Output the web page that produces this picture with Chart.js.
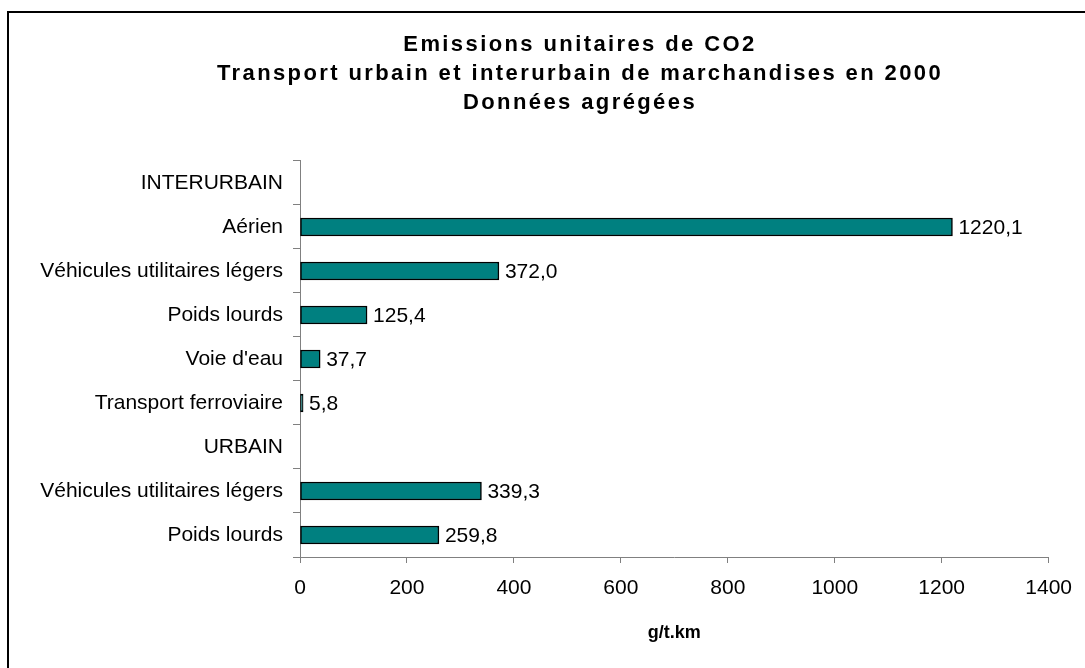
<!DOCTYPE html>
<html lang="fr">
<head>
    <meta charset="UTF-8">
    <title>Emissions unitaires de CO2</title>
    <script src="https://cdn.jsdelivr.net/npm/chart.js"></script>
    <style>
        body { margin: 0; background: #fff; }
    </style>
</head>
<body>
    <canvas id="co2Chart" width="1085" height="668"></canvas>

    <script>
        // categories and values
        const categories = ['INTERURBAIN', 'Aérien', 'Véhicules utilitaires légers', 'Poids lourds', "Voie d'eau",
                            'Transport ferroviaire', 'URBAIN', 'Véhicules utilitaires légers', 'Poids lourds'];
        const emissions = [null, 1220.1, 372.0, 125.4, 37.7, 5.8, null, 339.3, 259.8];
        const xTicks = [0, 200, 400, 600, 800, 1000, 1200, 1400];

        const titleLines = ['Emissions unitaires de CO2',
                            'Transport urbain et interurbain de marchandises en 2000',
                            'Données agrégées'];

        const fontFamily = "'Liberation Sans', Arial, sans-serif";
        const titleCenterX = 580;

        // frame lines (top and left) like the original sheet
        const framePlugin = {
            id: 'frame',
            beforeDraw(chart) {
                const c = chart.ctx;
                c.save();
                c.fillStyle = '#fff';
                c.fillRect(0, 0, chart.width, chart.height);
                c.strokeStyle = '#000';
                c.lineWidth = 2;
                c.beginPath();
                c.moveTo(8, chart.height);
                c.lineTo(8, 12);
                c.lineTo(chart.width, 12);
                c.stroke();
                c.restore();
            }
        };

        // slightly wider letter spacing on the title, centred where the original was
        const titleStyle = {
            id: 'titleStyle',
            beforeDraw(chart) {
                const tb = chart.titleBlock;
                if (!tb || tb._styled) return;
                const draw = tb.draw;
                tb.draw = function() {
                    const c = chart.ctx;
                    c.save();
                    c.letterSpacing = '2.4px';
                    c.translate(titleCenterX - (tb.left + tb.right) / 2, 0);
                    draw.apply(tb, arguments);
                    c.restore();
                };
                tb._styled = true;
            }
        };

        // value labels at the end of each bar
        const valueLabels = {
            id: 'valueLabels',
            afterDatasetsDraw(chart) {
                const c = chart.ctx;
                const meta = chart.getDatasetMeta(0);
                c.save();
                c.font = '21px ' + fontFamily;
                c.fillStyle = '#000';
                c.textBaseline = 'middle';
                c.textAlign = 'left';
                meta.data.forEach(function(bar, i) {
                    const v = chart.data.datasets[0].data[i];
                    if (v === null) return;
                    c.fillText(v.toFixed(1).replace('.', ','), bar.x + 6, bar.y + 1);
                });
                c.restore();
            }
        };

        const ctx = document.getElementById('co2Chart').getContext('2d');
        const co2Chart = new Chart(ctx, {
            type: 'bar',
            data: {
                labels: categories,
                datasets: [{
                    data: emissions,
                    backgroundColor: '#008080',
                    borderColor: '#000',
                    borderWidth: 1.5,
                    borderSkipped: false,
                    barThickness: 18
                }]
            },
            options: {
                indexAxis: 'y',
                responsive: false,
                animation: false,
                events: [],
                layout: {
                    padding: { top: 0, left: 8, right: 31, bottom: 18 }
                },
                plugins: {
                    legend: { display: false },
                    tooltip: { enabled: false },
                    title: {
                        display: true,
                        text: titleLines,
                        color: '#000',
                        font: { family: fontFamily, size: 22, weight: 'bold', lineHeight: 1.318 },
                        padding: { top: 30.5, bottom: 43.5 }
                    }
                },
                scales: {
                    x: {
                        min: 0,
                        max: 1400,
                        afterBuildTicks: function(scale) {
                            scale.ticks = xTicks.map(function(v) { return { value: v }; });
                        },
                        afterFit: function(scale) { scale.height = 93; },
                        grid: { drawOnChartArea: false, tickLength: 6, color: '#808080' },
                        border: { color: '#808080', width: 1 },
                        ticks: {
                            color: '#000',
                            padding: 13,
                            maxRotation: 0,
                            font: { family: fontFamily, size: 21 },
                            callback: function(value) { return String(value); }
                        },
                        title: {
                            display: true,
                            text: 'g/t.km',
                            color: '#000',
                            font: { family: fontFamily, size: 18, weight: 'bold' },
                            padding: { top: 0, bottom: 6 }
                        }
                    },
                    y: {
                        afterFit: function(scale) { scale.width = 292; },
                        grid: { drawOnChartArea: false, tickLength: 7, color: '#808080', offset: true },
                        border: { color: '#808080', width: 1 },
                        ticks: {
                            color: '#000',
                            padding: 10,
                            autoSkip: false,
                            font: { family: fontFamily, size: 21 }
                        }
                    }
                }
            },
            plugins: [framePlugin, titleStyle, valueLabels]
        });
    </script>
</body>
</html>
